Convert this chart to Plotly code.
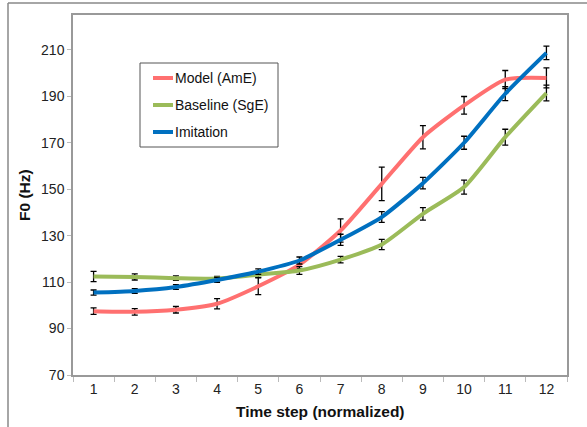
import plotly.graph_objects as go

steps = ["1", "2", "3", "4", "5", "6", "7", "8", "9", "10", "11", "12"]

model_amE = [97.5, 97.2, 98.1, 100.7, 108.2, 117.5, 132.2, 152.3, 172.4, 186.1, 197.2, 197.9]
model_err = [1.4, 1.4, 1.4, 2.2, 3.6, 1.7, 5.0, 7.2, 5.0, 3.8, 3.9, 4.3]

baseline_sgE = [112.4, 112.2, 111.7, 111.5, 113.2, 115.0, 119.7, 126.2, 139.4, 150.9, 172.4, 191.4]
baseline_err = [2.2, 1.3, 1.0, 1.0, 1.2, 1.7, 1.4, 2.2, 2.7, 3.0, 3.4, 3.4]

imitation = [105.5, 106.2, 107.9, 110.9, 114.5, 119.3, 128.2, 138.0, 152.6, 170.0, 191.1, 208.7]
imitation_err = [1.1, 1.0, 1.0, 1.0, 1.2, 1.5, 2.4, 2.3, 2.5, 2.8, 3.0, 2.9]

y_ticks = [70, 90, 110, 130, 150, 170, 190, 210]

series_names = ["Model (AmE)", "Baseline (SgE)", "Imitation"]
series_vals = [model_amE, baseline_sgE, imitation]
series_errs = [model_err, baseline_err, imitation_err]
series_colors = ["#FF7070", "#9BBB59", "#0070C0"]

fig = go.Figure()
for name, vals, errs, color in zip(series_names, series_vals, series_errs, series_colors):
    fig.add_trace(go.Scatter(
        x=steps, y=vals, name=name, mode="lines", showlegend=False,
        line=dict(color=color, width=4, shape="spline", smoothing=0.6),
        error_y=dict(type="data", array=errs, visible=True,
                     color="black", thickness=1.3, width=3),
    ))

W, H = 587, 427
L, R, T, B = 73, 20, 15, 52
pw, ph = W - L - R, H - T - B

def px2x(p):
    return (p - L) / pw

def px2y(p):
    return (H - B - p) / ph

shapes = [
    # outer chart frame
    dict(type="line", xref="paper", yref="paper",
         x0=px2x(8), x1=px2x(W + 5), y0=px2y(3), y1=px2y(3),
         line=dict(color="#888", width=1.5)),
    dict(type="line", xref="paper", yref="paper",
         x0=px2x(8), x1=px2x(8), y0=px2y(3), y1=px2y(H + 5),
         line=dict(color="#888", width=1.5)),
    # legend box
    dict(type="rect", xref="paper", yref="paper",
         x0=px2x(140), x1=px2x(278), y0=px2y(63), y1=px2y(147),
         line=dict(color="#555", width=1), fillcolor="white", layer="above"),
]
annotations = []
legend_rows = [78, 105, 132]
for name, color, ry in zip(series_names, series_colors, legend_rows):
    shapes.append(dict(type="line", xref="paper", yref="paper",
                       x0=px2x(153), x1=px2x(173), y0=px2y(ry), y1=px2y(ry),
                       line=dict(color=color, width=4), layer="above"))
    annotations.append(dict(xref="paper", yref="paper", x=px2x(173), y=px2y(ry),
                            xanchor="left", yanchor="middle", showarrow=False,
                            text=name, font=dict(size=14, color="#111")))

annotations.append(dict(xref="paper", yref="paper", x=px2x(24), y=0.5,
                        xanchor="center", yanchor="middle", showarrow=False,
                        textangle=-90, text="<b>F0 (Hz)</b>",
                        font=dict(size=15.5, color="#111")))
annotations.append(dict(xref="paper", yref="paper", x=0.5, y=px2y(411),
                        xanchor="center", yanchor="middle", showarrow=False,
                        text="<b>Time step (normalized)</b>",
                        font=dict(size=15.5, color="#111")))

fig.update_layout(
    width=W, height=H,
    margin=dict(l=L, r=R, t=T, b=B, autoexpand=False),
    paper_bgcolor="white", plot_bgcolor="white",
    font=dict(family="Liberation Sans, Arial, sans-serif", size=14, color="#222"),
    showlegend=False,
    xaxis=dict(
        type="category", range=[-0.5, len(steps) - 0.5],
        tickson="boundaries", ticks="outside", ticklen=5,
        tickcolor="#bbb", showline=True, linecolor="#999", linewidth=1.5,
        mirror=True, showgrid=False, zeroline=False, automargin=False,
        tickfont=dict(size=14, color="#222"),
    ),
    yaxis=dict(
        range=[70, 225], tickvals=y_ticks, ticks="outside", ticklen=4,
        tickcolor="#bbb", showline=True, linecolor="#999", linewidth=1.5,
        mirror=True, showgrid=False, zeroline=False, automargin=False,
        tickfont=dict(size=14, color="#222"),
    ),
    shapes=shapes,
    annotations=annotations,
)

fig.write_html(
    "out.html",
    config={"displayModeBar": False},
    post_script="document.body.style.margin='0';document.body.style.overflow='hidden';",
)
